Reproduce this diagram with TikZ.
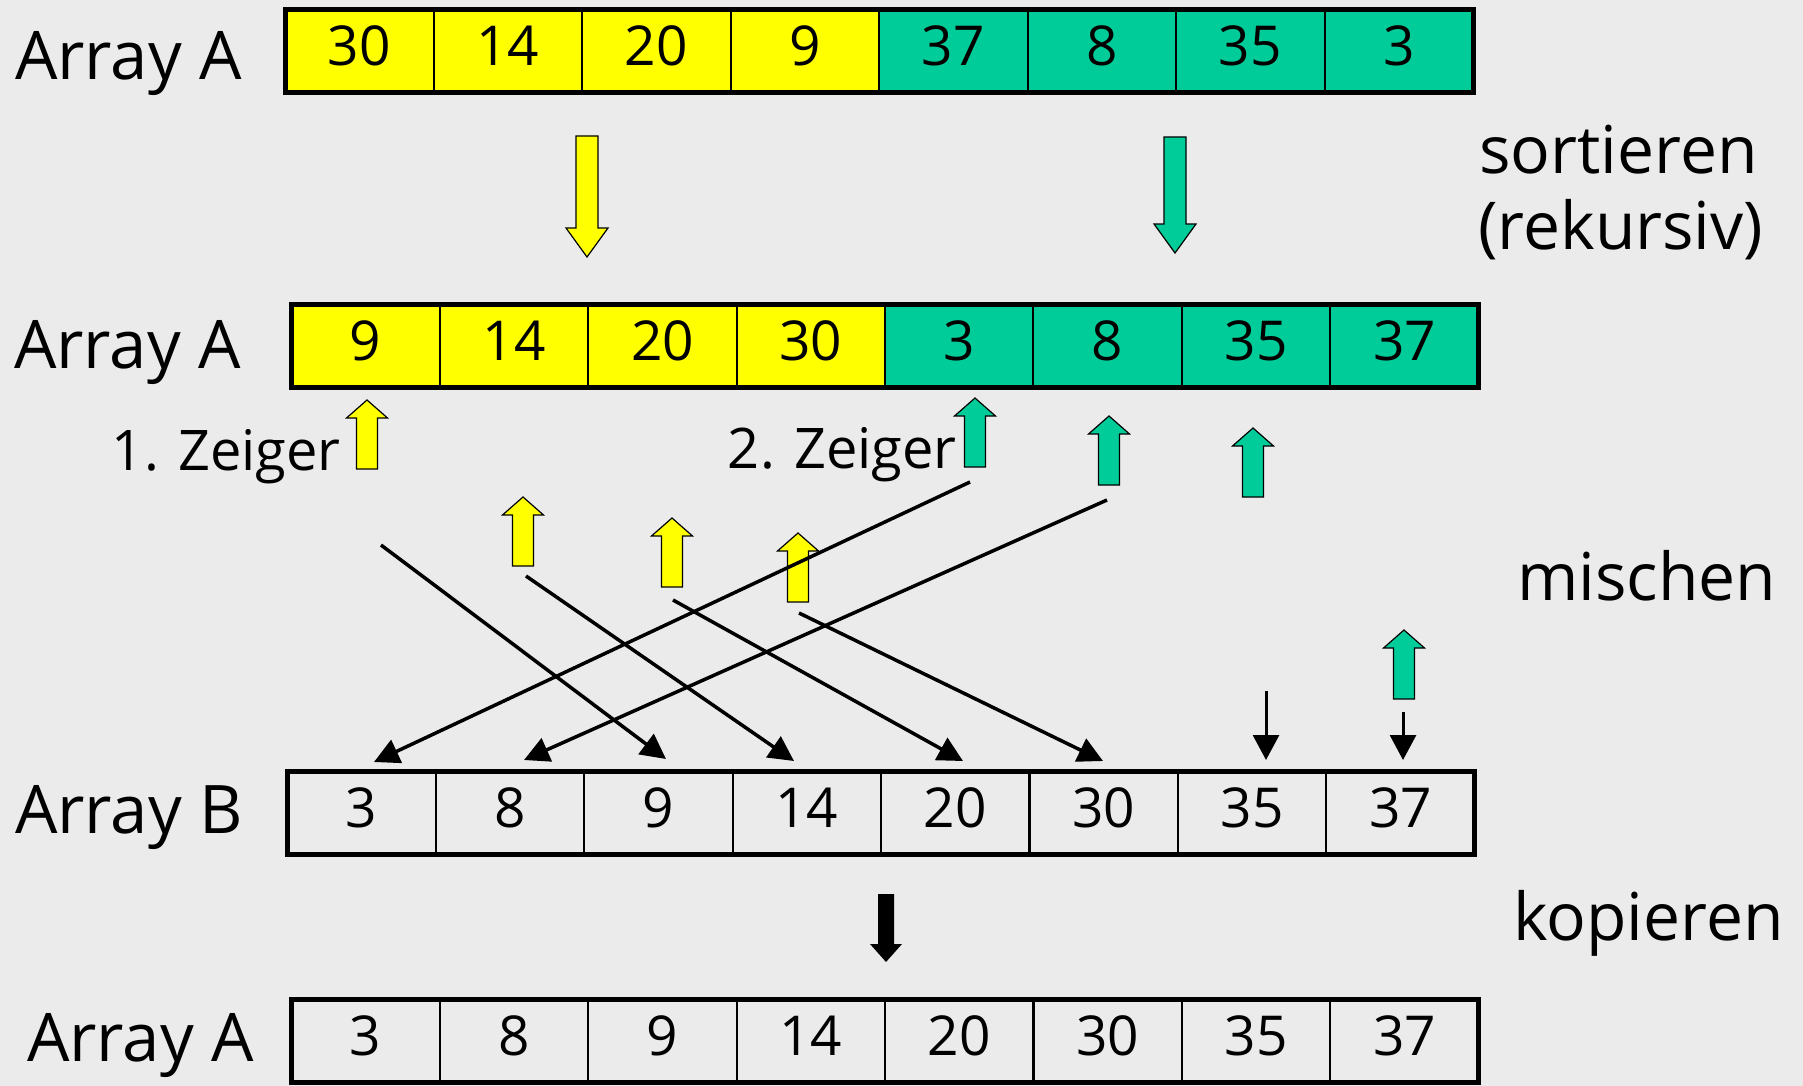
\documentclass[tikz,border=0pt]{standalone}
\usepackage{fontspec}
\setmainfont{Open Sans}
\usetikzlibrary{arrows.meta}
\definecolor{bg}{HTML}{EBEBEB}
\definecolor{yel}{HTML}{FFFF00}
\definecolor{grn}{HTML}{00CC99}
\newcommand{\upblk}[3]{%
  \filldraw[fill=#3, draw=black, line width=1.2pt, line join=miter]
    (#1,#2) -- (#1+20.5,#2+18) -- (#1+10.5,#2+18) -- (#1+10.5,#2+69)
    -- (#1-10.5,#2+69) -- (#1-10.5,#2+18) -- (#1-20.5,#2+18) -- cycle;}
\newcommand{\downblk}[4]{%
  % center x, top y, tip y, colour
  \filldraw[fill=#4, draw=black, line width=1.2pt, line join=miter]
    (#1-11,#2) -- (#1+11,#2) -- (#1+11,#3-29) -- (#1+21,#3-29) -- (#1,#3)
    -- (#1-21,#3-29) -- (#1-11,#3-29) -- cycle;}
\tikzset{
  cell/.style={draw=black, line width=2pt, minimum width=148.5pt, minimum height=83pt,
    inner sep=0pt, outer sep=0pt, font=\fontsize{55}{60}\selectfont,
    text height=39pt, text depth=10pt},
  outerbox/.style={draw=black, line width=5pt},
  lbl/.style={inner sep=0pt, font=\fontsize{67}{70}\selectfont},
  side/.style={inner sep=0pt, anchor=base west, font=\fontsize{66}{70}\selectfont},
  ptr/.style={inner sep=0pt, anchor=base east, font=\fontsize{56}{60}\selectfont},
  merge/.style={draw=black, line width=3.5pt, -{Triangle[length=25pt, width=25pt]}},
  drop/.style={draw=black, line width=3pt, -{Triangle[length=25pt, width=26pt]}}
}
\begin{document}
\begin{tikzpicture}[x=1pt, y=-1pt]
\useasboundingbox (0,0) rectangle (1803,1086);
\fill[bg] (0,0) rectangle (1803,1086);

% row 1: Array A unsorted
\foreach \v [count=\i] in {30,14,20,9,37,8,35,3} {
  \pgfmathsetmacro\cx{285+148.5*(\i-0.5)}
  \ifnum\i<5 \def\col{yel}\else\def\col{grn}\fi
  \node[cell, fill=\col] (t\i) at (\cx,51.5) {\v};
}
\draw[outerbox] (t1.north west) rectangle (t8.south east);
\node[lbl, anchor=base east] (la1) at (242,80) {Array A};

% row 2: Array A sorted halves
\foreach \v [count=\i] in {9,14,20,30,3,8,35,37} {
  \pgfmathsetmacro\cx{291.5+148.4*(\i-0.5)}
  \ifnum\i<5 \def\col{yel}\else\def\col{grn}\fi
  \node[cell, fill=\col] (s\i) at (\cx,346) {\v};
}
\draw[outerbox] (s1.north west) rectangle (s8.south east);
\node[lbl, anchor=base east] (la2) at (241,368) {Array A};

% row 3: Array B
\foreach \v [count=\i] in {3,8,9,14,20,30,35,37} {
  \pgfmathsetmacro\cx{287.5+148.4*(\i-0.5)}
  \node[cell] (b\i) at (\cx,813) {\v};
}
\draw[outerbox] (b1.north west) rectangle (b8.south east);
\node[lbl, anchor=base east] (lb) at (243,833) {Array B};

% row 4: Array A copied
\foreach \v [count=\i] in {3,8,9,14,20,30,35,37} {
  \pgfmathsetmacro\cx{291.5+148.4*(\i-0.5)}
  \node[cell] (c\i) at (\cx,1041) {\v};
}
\draw[outerbox] (c1.north west) rectangle (c8.south east);
\node[lbl, anchor=base east] (la3) at (254,1061) {Array A};

% side texts
\node[side] (tsort) at (1479,174) {sortieren};
\node[side] (trek) at (1478,249) {(rekursiv)};
\node[side] (tmix) at (1517,600) {mischen};
\node[side] (tcopy) at (1513,940) {kopieren};

% sort arrows
\downblk{587}{136}{257}{yel}
\downblk{1175}{137}{253}{grn}

% pointer labels
\node[ptr] (z1) at (341,470) {1. Zeiger};
\node[ptr] (z2) at (957,468) {2. Zeiger};

% pointer arrows
\upblk{367}{400}{yel}
\upblk{523}{497}{yel}
\upblk{672}{518}{yel}
\upblk{798}{533}{yel}
\upblk{975}{398}{grn}
\upblk{1109}{416}{grn}
\upblk{1253}{428}{grn}
\upblk{1404}{630}{grn}

% merge connectors
\coordinate (pa) at (381,545);  \coordinate (qa) at (666,759);
\coordinate (pb) at (526,576);  \coordinate (qb) at (794,761);
\coordinate (pc) at (673,600);  \coordinate (qc) at (963,761);
\coordinate (pd) at (799,613);  \coordinate (qd) at (1103,761);
\coordinate (pe) at (970,482);  \coordinate (qe) at (374,762);
\coordinate (pf) at (1107,500); \coordinate (qf) at (524,760);
\coordinate (pg) at (1266,691); \coordinate (qg) at (1266,760);
\coordinate (ph) at (1403,712); \coordinate (qh) at (1403,760);
\draw[merge] (pa) -- (qa);
\draw[merge] (pb) -- (qb);
\draw[merge] (pc) -- (qc);
\draw[merge] (pd) -- (qd);
\draw[merge] (pe) -- (qe);
\draw[merge] (pf) -- (qf);
\draw[drop] (pg) -- (qg);
\draw[drop] (ph) -- (qh);

% copy arrow
\fill[black] (878,894) -- (894,894) -- (894,944) -- (902,944) -- (886,962)
  -- (870,944) -- (878,944) -- cycle;
\end{tikzpicture}
\end{document}
